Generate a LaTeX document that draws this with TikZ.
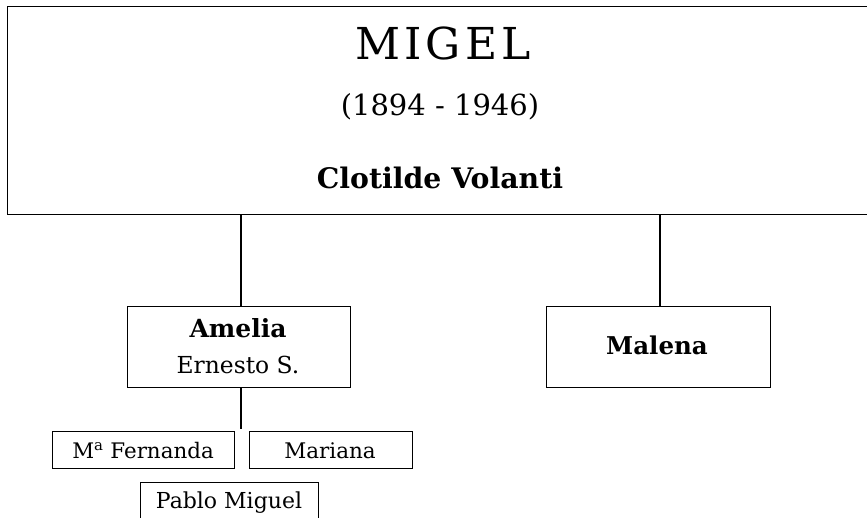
\documentclass[tikz,border=0pt]{standalone}
\usepackage{fontspec}
\setmainfont{DejaVu Serif}
\begin{document}
\begin{tikzpicture}[x=1pt,y=-1pt,
  box/.style={draw,line width=1.2pt,rectangle,inner sep=0pt,anchor=north west},
  conn/.style={line width=1.2pt},
  txt/.style={anchor=base,inner sep=0pt}]
\clip (0,0) rectangle (867,517);
\fill[white] (0,0) rectangle (867,517);
% boxes
\node[box,minimum width=873pt,minimum height=208pt] (top) at (7,5.5) {};
\node[box,minimum width=223pt,minimum height=81pt] (amelia) at (127,305.5) {};
\node[box,minimum width=224pt,minimum height=81pt] (malena) at (545.5,306) {};
\node[box,minimum width=182pt,minimum height=37pt] (fern) at (52,431) {};
\node[box,minimum width=163pt,minimum height=37pt] (mariana) at (249,431) {};
\node[box,minimum width=178pt,minimum height=60pt] (pablo) at (140,482) {};
% texts
\node[txt,font=\fontsize{44}{50}\selectfont\addfontfeature{LetterSpace=9}] (t1) at (443,59) {MIGEL};
\node[txt,font=\fontsize{29}{35}\selectfont] (t2) at (440,115) {(1894 - 1946)};
\node[txt,font=\fontsize{28.3}{34}\selectfont\bfseries] (t3) at (440,188) {Clotilde Volanti};
\node[txt,font=\fontsize{25}{30}\selectfont\bfseries] (t4) at (238,337) {Amelia};
\node[txt,font=\fontsize{23.4}{28}\selectfont] (t5) at (238,373) {Ernesto S.};
\node[txt,font=\fontsize{24.5}{30}\selectfont\bfseries] (t6) at (657,354) {Malena};
\node[txt,font=\fontsize{21.4}{26}\selectfont] (t7) at (143,458) {M\textsuperscript{a} Fernanda};
\node[txt,font=\fontsize{21.5}{26}\selectfont] (t8) at (330,458) {Mariana};
\node[txt,font=\fontsize{22}{26}\selectfont] (t9) at (229,508) {Pablo Miguel};
% connectors
\coordinate (ae) at (241,429);
\coordinate (me) at (660,306);
\draw[conn] (top.south -| ae) -- (ae |- amelia.north);
\draw[conn] (top.south -| me) -- (me |- malena.north);
\draw[conn] (ae |- amelia.south) -- (ae);
\end{tikzpicture}
\end{document}
